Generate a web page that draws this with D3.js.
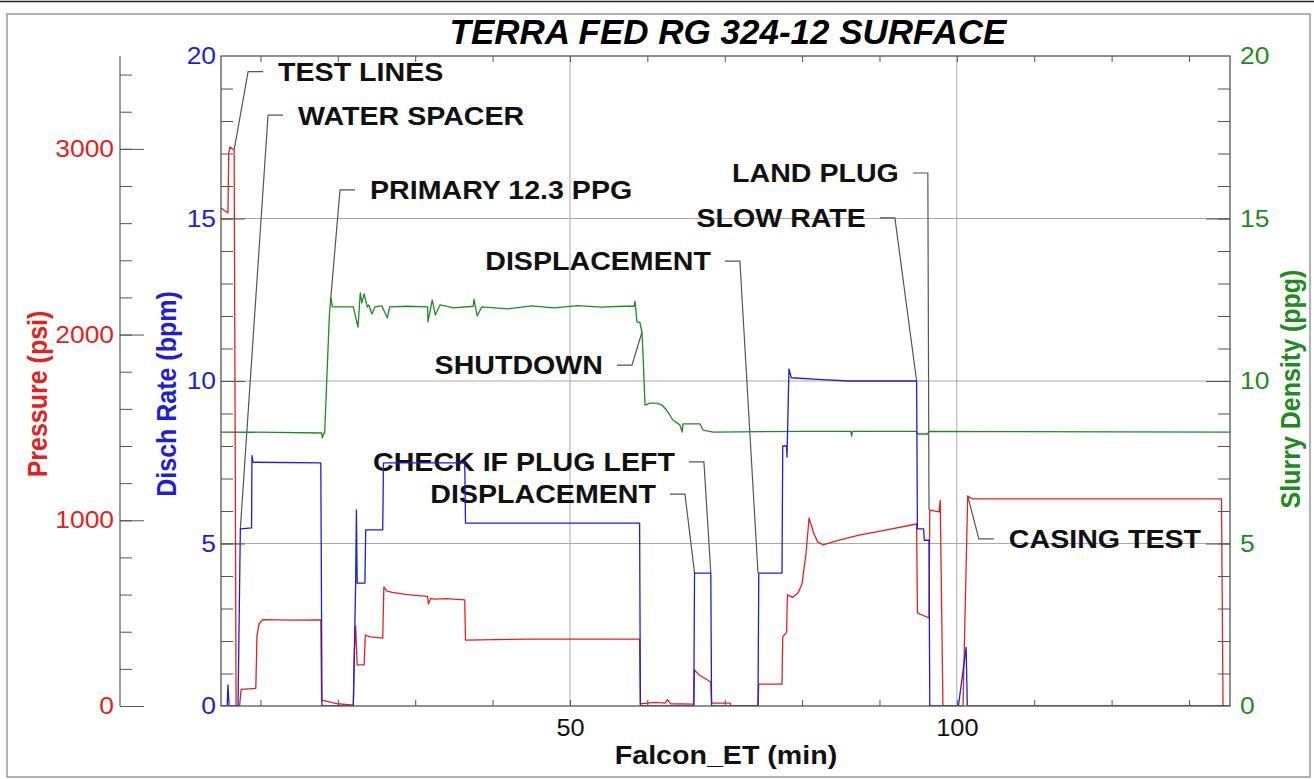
<!DOCTYPE html>
<html>
<head>
	<title>index</title>
	<meta charset="utf-8">
	<script src="https://d3js.org/d3.v7.min.js" charset="utf-8"></script>
	<style>
		body { margin:0; background:#fff; }
		svg { display:block; font-family:"Liberation Sans", Arial, sans-serif; }
		.tick line { stroke:#555; }
		.grid line { stroke:#aaa; stroke-width:1; }
	</style>
</head>
<body>
<script>

	// ---- data ----
	var timeDomain = [4.9, 135.3];
	var pressureDomain = [0, 3500];
	var rateDomain = [0, 20];
	var densityDomain = [0, 20];

	var pressureLabels = [0, 1000, 2000, 3000];
	var rateLabels = [0, 5, 10, 15, 20];
	var densityLabels = [0, 5, 10, 15, 20];
	var timeLabels = [50, 100];

	// [time (min), psi]
	var pressure = [
		[4.9,2682],[5.8,2655],[5.9,2978],[6.05,3010],[6.6,2994],[6.85,0],[7.3,0],[7.5,90],[9.4,95],
		[9.55,380],[9.8,440],[10.3,465],[14,462],[17.8,463],[17.9,32],[20,12],[22.0,5],[22.15,300],
		[22.3,431],[22.5,221],[23.4,221],[23.55,382],[24.2,372],[25.8,366],[25.95,641],[26.3,620],
		[27,612],[29,600],[31.6,590],[31.7,549],[32.0,580],[32.5,575],[34,578],[36.4,571],[36.5,355],
		[45,360],[59.0,360],[59.1,11],[61,20],[62.3,15],[62.6,34],[63,12],[66.0,10],[66.1,194],
		[66.6,170],[68.2,129],[68.3,16],[70.7,16],[70.8,0],[74.3,0],[74.4,118],[77.4,118],[77.5,372],
		[78.0,398],[78.1,598],[78.8,585],[79.5,610],[80.0,660],[80.5,820],[80.9,1012],[81.5,930],
		[82.0,885],[82.7,867],[84.9,894],[87.5,921],[90.1,942],[94.8,980],[94.9,501],[95.5,490],
		[96.4,474],[96.5,1055],[97.7,1045],[97.85,1109],[98.2,0],[100.8,0],[101.4,1131],[102,1115],
		[134.2,1115],[134.4,0]
	];

	// [time (min), bpm]
	var rate = [
		[4.9,0],[5.7,0],[5.8,0.65],[5.95,0],[7.1,0],[7.4,5.45],[8.85,5.48],[8.9,7.7],[9.05,7.5],
		[17.8,7.48],[17.95,0],[22.0,0],[22.3,3.78],[22.4,6.03],[22.5,3.78],[23.5,3.78],[23.6,5.42],
		[25.8,5.42],[25.9,7.48],[36.4,7.48],[36.5,5.63],[59.0,5.63],[59.1,0],[66.0,0],[66.1,4.09],
		[68.2,4.09],[68.3,0],[74.3,0],[74.4,4.09],[77.4,4.09],[77.5,8.0],[78.0,8.0],[78.05,7.66],
		[78.3,10.37],[78.6,10.1],[82,10.05],[86,10.0],[94.8,10.0],[94.9,5.45],[95.7,5.45],[95.8,5.1],
		[96.4,5.1],[96.5,0],[100.2,0],[101.2,1.8],[101.35,0],[135.3,0]
	];

	// [time (min), ppg]
	var density = [
		[4.9,8.43],[12,8.42],[17.9,8.4],[18.0,8.25],[18.2,8.4],[18.3,8.4],[18.9,12.0],[19.1,12.58],
		[19.3,12.28],[22.0,12.28],[22.6,11.66],[22.9,12.71],[23.1,12.4],[23.4,12.68],[23.8,12.28],
		[24.0,12.34],[24.4,12.06],[24.8,12.28],[25.7,12.31],[26.4,11.94],[26.7,12.28],[29,12.3],
		[31.6,12.28],[31.65,11.82],[32.2,12.49],[32.6,12.03],[33.2,12.34],[35,12.25],[37.5,12.3],
		[37.6,12.52],[38.0,12.0],[38.6,12.28],[42,12.22],[45,12.31],[48,12.25],[51,12.32],[54,12.27],
		[57,12.3],[58.3,12.3],[58.4,12.46],[58.66,11.82],[59.04,11.8],[59.3,11.5],[59.4,11.05],
		[59.7,9.26],[60.3,9.32],[61.2,9.32],[61.9,9.26],[62.5,9.1],[63.3,8.8],[64.2,8.65],[64.5,8.43],
		[64.6,8.68],[66.8,8.68],[67.2,8.49],[68.5,8.43],[80,8.45],[86.3,8.45],[86.4,8.3],[86.5,8.45],
		[94.8,8.45],[94.9,8.37],[96.2,8.37],[96.4,8.45],[135.3,8.43]
	];

	// annotations: text, which side of the leader the text sits, elbow [time, rate units], target [time, value, series]
	var noteTexts = ["TEST LINES","WATER SPACER","PRIMARY 12.3 PPG","DISPLACEMENT","SHUTDOWN",
		"CHECK IF PLUG LEFT","DISPLACEMENT","LAND PLUG","SLOW RATE","CASING TEST"];
	var noteSides = ["right","right","right","left","left","left","left","left","left","right"];
	var noteElbows = [[8.40,19.52],[10.98,18.18],[20.28,15.88],[71.96,13.69],[58.01,10.49],
		[67.31,7.51],[64.86,6.52],[96.25,16.40],[91.99,15.02],[102.84,5.14]];
	var noteTargets = [[6.6,2994,"p"],[7.4,5.45,"r"],[19.1,12.58,"d"],[74.3,4.09,"r"],[59.3,11.5,"d"],
		[68.2,4.09,"r"],[66.1,4.09,"r"],[96.4,1055,"p"],[94.8,10.0,"r"],[101.4,1131,"p"]];

	// ---- layout ----
	var W = 1314, H = 779;
	var plotL = 221, plotR = 1230, plotT = 56, plotB = 706;
	var pAxisX = 120;
	var stretch = 1.1;
	var red = "#e22222", blue = "#1e1ed2", green = "#1f8a1f";

	var svg = d3.select("body").append("svg").attr("width", W).attr("height", H);

	var x = d3.scaleLinear().domain(timeDomain).range([plotL, plotR]);
	var yP = d3.scaleLinear().domain(pressureDomain).range([plotB, plotT]);
	var yR = d3.scaleLinear().domain(rateDomain).range([plotB, plotT]);
	var yD = d3.scaleLinear().domain(densityDomain).range([plotB, plotT]);

	function widen(sel) {
		sel.each(function() {
			var t = d3.select(this);
			var tx = +t.attr("x") || 0;
			t.attr("x", tx / stretch).attr("transform", "scale(" + stretch + ",1)");
		});
	}

	// outer frame
	svg.append("line").attr("x1", 0).attr("x2", W).attr("y1", 1.5).attr("y2", 1.5)
		.attr("stroke", "#222").attr("stroke-width", 1.5);
	svg.append("rect").attr("x", 7).attr("y", 14).attr("width", 1303).attr("height", 763)
		.attr("fill", "none").attr("stroke", "#999").attr("stroke-width", 1.5);

	// title
	svg.append("text").attr("x", 728).attr("y", 44).attr("text-anchor", "middle")
		.attr("font-size", 35).attr("font-weight", "bold").attr("font-style", "italic")
		.text("TERRA FED RG 324-12 SURFACE");

	// grid
	var grid = svg.append("g").attr("class", "grid");
	grid.selectAll(".h").data([5, 10, 15]).enter().append("line")
		.attr("x1", plotL).attr("x2", plotR)
		.attr("y1", function(d) { return yR(d); }).attr("y2", function(d) { return yR(d); });
	grid.selectAll(".v").data(timeLabels).enter().append("line")
		.attr("y1", plotT).attr("y2", plotB)
		.attr("x1", function(d) { return x(d); }).attr("x2", function(d) { return x(d); });

	// annotations (under the curves)
	var notes = svg.append("g");
	noteTexts.forEach(function(txt, i) {
		var ex = x(noteElbows[i][0]), ey = yR(noteElbows[i][1]);
		var t = noteTargets[i];
		var ty = t[2] == "p" ? yP(t[1]) : (t[2] == "r" ? yR(t[1]) : yD(t[1]));
		var near = noteSides[i] == "right" ? ex + 15 : ex - 15;
		notes.append("path")
			.attr("d", "M" + near + "," + ey + "L" + ex + "," + ey + "L" + x(t[0]) + "," + ty)
			.attr("fill", "none").attr("stroke", "#555").attr("stroke-width", 1.2);
		var tx = noteSides[i] == "right" ? near + 15 : near - 14;
		notes.append("text")
			.attr("transform", "translate(" + tx + "," + ey + ") scale(" + stretch + ",1)")
			.attr("dy", "0.36em")
			.attr("text-anchor", noteSides[i] == "right" ? "start" : "end")
			.attr("font-size", 26).attr("font-weight", "bold").attr("fill", "#111")
			.text(txt);
	});

	// curves
	svg.append("clipPath").attr("id", "plotclip").append("rect")
		.attr("x", plotL).attr("y", plotT).attr("width", plotR - plotL).attr("height", plotB - plotT);
	var curves = svg.append("g").attr("clip-path", "url(#plotclip)");

	function drawCurve(data, yScale, color) {
		var line = d3.line().x(function(d) { return x(d[0]); }).y(function(d) { return yScale(d[1]); });
		curves.append("path").datum(data).attr("d", line)
			.attr("fill", "none").attr("stroke", color).attr("stroke-width", 1.3)
			.attr("stroke-linejoin", "round");
	}
	drawCurve(density, yD, green);
	drawCurve(pressure, yP, red);
	drawCurve(rate, yR, blue);

	// plot frame
	svg.append("rect").attr("x", plotL).attr("y", plotT).attr("width", plotR - plotL).attr("height", plotB - plotT)
		.attr("fill", "none").attr("stroke", "#555").attr("stroke-width", 1.3);

	function noDomain(g) { g.select(".domain").remove(); }

	// time axis ticks (bottom and top, inward)
	svg.append("g").attr("transform", "translate(0," + plotB + ")")
		.call(d3.axisTop(x).tickValues(d3.range(10, 140, 10)).tickSize(6).tickFormat(""))
		.call(noDomain);
	svg.append("g").attr("transform", "translate(0," + plotT + ")")
		.call(d3.axisBottom(x).tickValues(d3.range(10, 140, 10)).tickSize(6).tickFormat(""))
		.call(noDomain);
	var xl = svg.append("g").attr("transform", "translate(0," + plotB + ")")
		.call(d3.axisBottom(x).tickValues(timeLabels).tickSize(0).tickPadding(14).tickFormat(d3.format("d")))
		.call(noDomain);
	xl.selectAll("text").attr("font-size", 23).attr("fill", "#111").attr("font-family", null);
	widen(xl.selectAll("text"));

	// rate axis (left of plot)
	svg.append("g").attr("transform", "translate(" + plotL + ",0)")
		.call(d3.axisRight(yR).tickValues(d3.range(1, 20, 1)).tickSize(12).tickFormat("")).call(noDomain);
	svg.append("g").attr("transform", "translate(" + plotL + ",0)")
		.call(d3.axisRight(yR).tickValues([5, 10, 15]).tickSize(24).tickFormat("")).call(noDomain);
	var rl = svg.append("g").attr("transform", "translate(" + plotL + ",0)")
		.call(d3.axisLeft(yR).tickValues(rateLabels).tickSize(0).tickPadding(5)).call(noDomain);
	rl.selectAll("text").attr("font-size", 24).attr("fill", blue).attr("font-family", null);
	widen(rl.selectAll("text"));

	// density axis (right of plot)
	svg.append("g").attr("transform", "translate(" + plotR + ",0)")
		.call(d3.axisLeft(yD).tickValues(d3.range(1, 20, 1)).tickSize(12).tickFormat("")).call(noDomain);
	svg.append("g").attr("transform", "translate(" + plotR + ",0)")
		.call(d3.axisLeft(yD).tickValues([5, 10, 15]).tickSize(24).tickFormat("")).call(noDomain);
	var dl = svg.append("g").attr("transform", "translate(" + plotR + ",0)")
		.call(d3.axisRight(yD).tickValues(densityLabels).tickSize(0).tickPadding(10)).call(noDomain);
	dl.selectAll("text").attr("font-size", 24).attr("fill", green).attr("font-family", null);
	widen(dl.selectAll("text"));

	// pressure axis (free standing)
	svg.append("line").attr("x1", pAxisX).attr("x2", pAxisX).attr("y1", plotT).attr("y2", plotB)
		.attr("stroke", "#666").attr("stroke-width", 1.3);
	svg.append("g").attr("transform", "translate(" + pAxisX + ",0)")
		.call(d3.axisRight(yP).tickValues(d3.range(200, 3500, 200)).tickSize(12).tickFormat("")).call(noDomain);
	svg.append("g").attr("transform", "translate(" + pAxisX + ",0)")
		.call(d3.axisRight(yP).tickValues(pressureLabels).tickSize(24).tickFormat("")).call(noDomain);
	var pl = svg.append("g").attr("transform", "translate(" + pAxisX + ",0)")
		.call(d3.axisLeft(yP).tickValues(pressureLabels).tickSize(0).tickPadding(6).tickFormat(d3.format("d")))
		.call(noDomain);
	pl.selectAll("text").attr("font-size", 24).attr("fill", red).attr("font-family", null);
	widen(pl.selectAll("text"));

	// axis titles
	function rotTitle(bx, cy, txt, color) {
		svg.append("text")
			.attr("transform", "translate(" + bx + "," + cy + ") scale(" + stretch + ",1) rotate(-90)")
			.attr("text-anchor", "middle").attr("font-size", 25).attr("font-weight", "bold")
			.attr("fill", color).text(txt);
	}
	rotTitle(47, 394, "Pressure (psi)", red);
	rotTitle(176, 394, "Disch Rate (bpm)", blue);
	rotTitle(1300, 389, "Slurry Density (ppg)", green);

	svg.append("text")
		.attr("transform", "translate(726," + 764 + ") scale(" + stretch + ",1)")
		.attr("text-anchor", "middle").attr("font-size", 26).attr("font-weight", "bold").attr("fill", "#111")
		.text("Falcon_ET (min)");

</script>
</body>
</html>
